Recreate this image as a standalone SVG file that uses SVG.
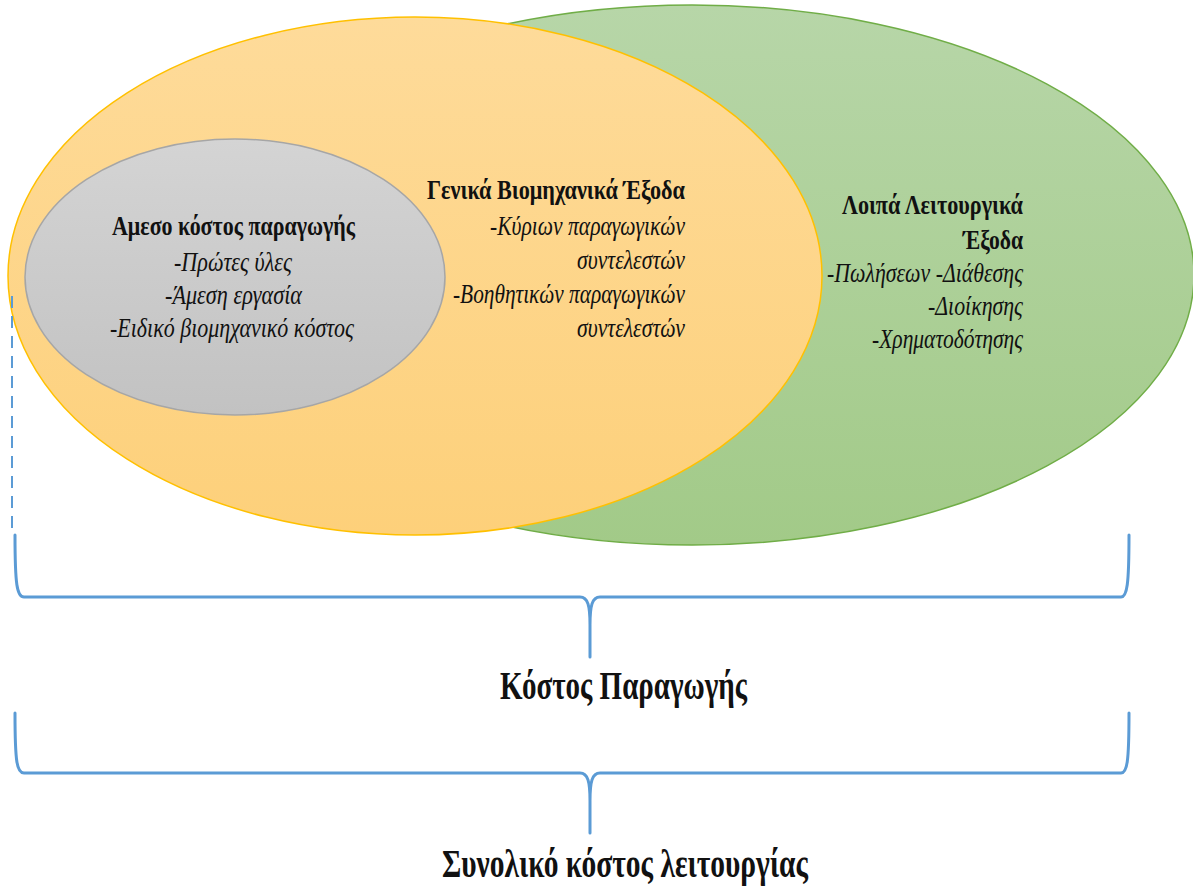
<svg xmlns="http://www.w3.org/2000/svg" width="1193" height="889" viewBox="0 0 1193 889">
  <defs>
    <linearGradient id="gGreen" x1="0" y1="0" x2="0" y2="1">
      <stop offset="0" stop-color="#b7d6a8"/>
      <stop offset="1" stop-color="#a2ca88"/>
    </linearGradient>
    <linearGradient id="gOrange" x1="0" y1="0" x2="0" y2="1">
      <stop offset="0" stop-color="#fedb9a"/>
      <stop offset="1" stop-color="#fdd07a"/>
    </linearGradient>
    <linearGradient id="gGray" x1="0" y1="0" x2="0" y2="1">
      <stop offset="0" stop-color="#d4d4d4"/>
      <stop offset="1" stop-color="#c2c2c2"/>
    </linearGradient>
    <style>
      text { font-family: "Liberation Serif", "Times New Roman", serif; fill: #111; }
      .h { font-weight: bold; font-size: 28px; }
      .i { font-style: italic; font-size: 28px; }
      .big { font-weight: bold; font-size: 40px; }
      .brace { fill: none; stroke: #5b9bd5; stroke-width: 3; stroke-linecap: round; }
    </style>
  </defs>

  <rect width="1193" height="889" fill="#ffffff"/>

  <!-- Other operating expenses -->
  <g id="other-expenses">
    <ellipse cx="692" cy="275" rx="502" ry="270" fill="url(#gGreen)" stroke="#70ad47" stroke-width="1.5"/>
    <text class="h" x="842" y="214" textLength="181" lengthAdjust="spacingAndGlyphs">Λοιπά Λειτουργικά</text>
    <text class="h" x="963" y="249" textLength="60" lengthAdjust="spacingAndGlyphs">Έξοδα</text>
    <text class="i" x="827" y="282" textLength="196" lengthAdjust="spacingAndGlyphs">-Πωλήσεων -Διάθεσης</text>
    <text class="i" x="928" y="315" textLength="95" lengthAdjust="spacingAndGlyphs">-Διοίκησης</text>
    <text class="i" x="872" y="348" textLength="151" lengthAdjust="spacingAndGlyphs">-Χρηματοδότησης</text>
  </g>

  <!-- General industrial expenses -->
  <g id="industrial-expenses">
    <ellipse cx="415" cy="276" rx="407" ry="259" fill="url(#gOrange)" stroke="#ffc000" stroke-width="1.5"/>
    <text class="h" x="427" y="199" textLength="258" lengthAdjust="spacingAndGlyphs">Γενικά Βιομηχανικά Έξοδα</text>
    <text class="i" x="490" y="235" textLength="195" lengthAdjust="spacingAndGlyphs">-Κύριων παραγωγικών</text>
    <text class="i" x="577" y="269" textLength="108" lengthAdjust="spacingAndGlyphs">συντελεστών</text>
    <text class="i" x="453" y="303" textLength="232" lengthAdjust="spacingAndGlyphs">-Βοηθητικών παραγωγικών</text>
    <text class="i" x="577" y="337" textLength="108" lengthAdjust="spacingAndGlyphs">συντελεστών</text>
  </g>

  <!-- Direct production cost -->
  <g id="direct-cost">
    <ellipse cx="235" cy="277" rx="210" ry="138" fill="url(#gGray)" stroke="#a6a6a6" stroke-width="1.5"/>
    <text class="h" x="112" y="235" textLength="243" lengthAdjust="spacingAndGlyphs">Αμεσο κόστος παραγωγής</text>
    <text class="i" x="174" y="271" textLength="118" lengthAdjust="spacingAndGlyphs">-Πρώτες ύλες</text>
    <text class="i" x="165" y="304" textLength="137" lengthAdjust="spacingAndGlyphs">-Άμεση εργασία</text>
    <text class="i" x="110" y="337" textLength="244" lengthAdjust="spacingAndGlyphs">-Ειδικό βιομηχανικό κόστος</text>
  </g>

  <!-- Braces and guide -->
  <g id="connectors">
    <line x1="12" y1="296" x2="12" y2="528" stroke="#5b9bd5" stroke-width="2" stroke-dasharray="12 8"/>
    <path class="brace" d="M15,535 C15,585 17,597 24,597 L580,597 C588,597 590,606 590,625 L590,657 M590,625 C590,606 592,597 600,597 L1121,597 C1127,597 1129,585 1129,535"/>
    <path class="brace" d="M15,713 C15,763 17,773 24,773 L580,773 C588,773 590,782 590,801 L590,833 M590,801 C590,782 592,773 600,773 L1121,773 C1127,773 1129,763 1129,713"/>
  </g>

  <g id="production-cost">
    <text class="big" x="500" y="699" textLength="247" lengthAdjust="spacingAndGlyphs">Κόστος Παραγωγής</text>
  </g>
  <g id="total-operating-cost">
    <text class="big" x="442" y="877" textLength="366" lengthAdjust="spacingAndGlyphs">Συνολικό κόστος λειτουργίας</text>
  </g>
</svg>
